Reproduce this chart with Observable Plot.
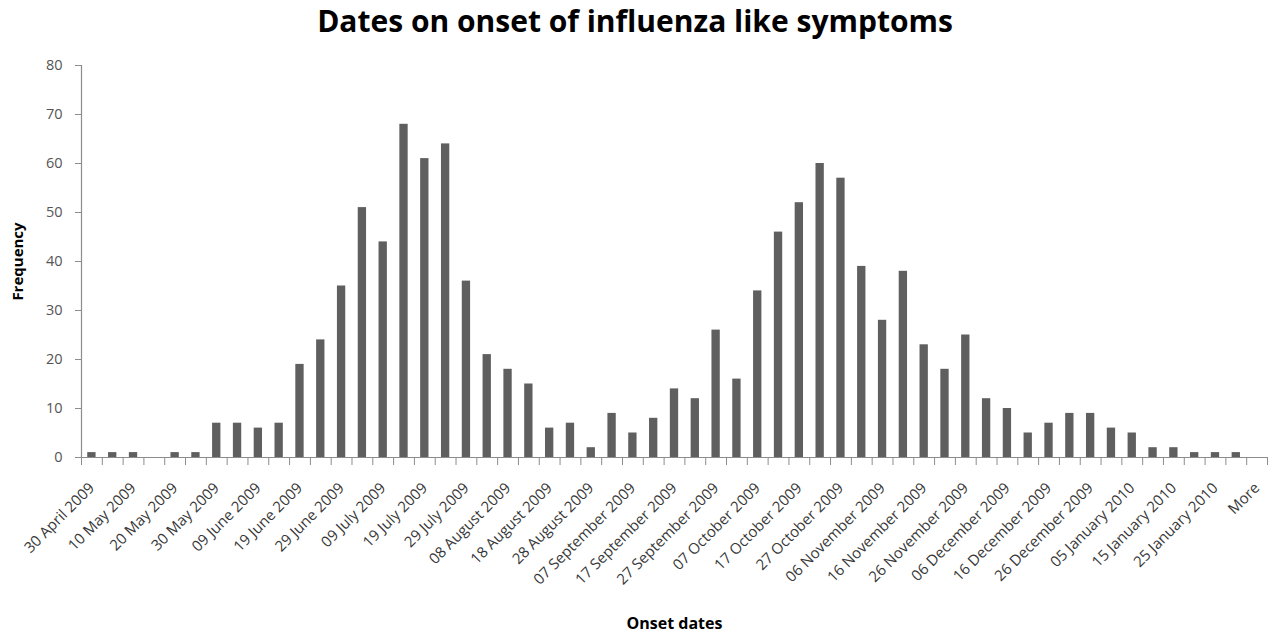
<!DOCTYPE html>
<html>
<head>
<meta charset="utf-8">
<script src="https://cdn.jsdelivr.net/npm/d3@7"></script>
<script src="https://cdn.jsdelivr.net/npm/@observablehq/plot@0.6"></script>
<style>
  html, body { margin: 0; padding: 0; background: #fff; }
  #title { box-sizing: border-box; height: 50px; padding-top: 0px; padding-right: 7px; text-align: center;
    font-family: "Open Sans", sans-serif; font-weight: bold; font-size: 30px; color: #000; line-height: normal; white-space: nowrap; }
  #chart svg { display: block; }
</style>
</head>
<body>
<div id="title">Dates on onset of influenza like symptoms</div>
<div id="chart"></div>
<script>
const categories = [
  "30 April 2009","05 May 2009","10 May 2009","15 May 2009","20 May 2009","25 May 2009",
  "30 May 2009","04 June 2009","09 June 2009","14 June 2009","19 June 2009","24 June 2009",
  "29 June 2009","04 July 2009","09 July 2009","14 July 2009","19 July 2009","24 July 2009",
  "29 July 2009","03 August 2009","08 August 2009","13 August 2009","18 August 2009","23 August 2009",
  "28 August 2009","02 September 2009","07 September 2009","12 September 2009","17 September 2009","22 September 2009",
  "27 September 2009","02 October 2009","07 October 2009","12 October 2009","17 October 2009","22 October 2009",
  "27 October 2009","01 November 2009","06 November 2009","11 November 2009","16 November 2009","21 November 2009",
  "26 November 2009","01 December 2009","06 December 2009","11 December 2009","16 December 2009","21 December 2009",
  "26 December 2009","31 December 2009","05 January 2010","10 January 2010","15 January 2010","20 January 2010",
  "25 January 2010","30 January 2010","More"
];
const frequencies = [
  1, 1, 1, 0, 1, 1,
  7, 7, 6, 7, 19, 24,
  35, 51, 44, 68, 61, 64,
  36, 21, 18, 15, 6, 7,
  2, 9, 5, 8, 14, 12,
  26, 16, 34, 46, 52, 60,
  57, 39, 28, 38, 23, 18,
  25, 12, 10, 5, 7, 9,
  9, 6, 5, 2, 2, 1,
  1, 1, 0
];
const tickLabels = [
  "30 April 2009","10 May 2009","20 May 2009","30 May 2009","09 June 2009","19 June 2009",
  "29 June 2009","09 July 2009","19 July 2009","29 July 2009","08 August 2009","18 August 2009",
  "28 August 2009","07 September 2009","17 September 2009","27 September 2009","07 October 2009","17 October 2009",
  "27 October 2009","06 November 2009","16 November 2009","26 November 2009","06 December 2009","16 December 2009",
  "26 December 2009","05 January 2010","15 January 2010","25 January 2010","More"
];
const yTicks = [0, 10, 20, 30, 40, 50, 60, 70, 80];

const data = categories.map((c, i) => ({category: c, value: frequencies[i]}));

const W = 1277, H = 588, mL = 81, mR = 10, mT = 15, mB = 181;
const half = (W - mL - mR) / categories.length / 2;
const axisColor = "#8c8c8c";

const chart = Plot.plot({
  width: W,
  height: H,
  marginLeft: mL,
  marginRight: mR,
  marginTop: mT,
  marginBottom: mB,
  style: {fontFamily: "'Open Sans', sans-serif", background: "#fff", overflow: "visible"},
  x: {domain: categories, type: "band", paddingInner: 0.6, paddingOuter: 0.3, align: 0.5, axis: null},
  y: {domain: [0, 80], axis: null},
  marks: [
    Plot.barY(data, {x: "category", y: "value", fill: "#5f5f5f"}),
    Plot.ruleY([0], {stroke: axisColor, strokeWidth: 1.2}),
    Plot.ruleX([categories[0]], {y1: 0, y2: 80, dx: -half, stroke: axisColor, strokeWidth: 1.2}),
    Plot.axisY({ticks: yTicks, tickSize: 6, text: null, stroke: axisColor, label: null}),
    Plot.axisY({ticks: yTicks, tickSize: 0, tickPadding: 19, fontSize: 14.5, fill: "#555555", label: null}),
    Plot.axisX({ticks: categories, tickSize: 8, text: null, dx: -half, stroke: axisColor, label: null}),
    Plot.axisX({ticks: [categories[categories.length - 1]], tickSize: 8, text: null, dx: half, stroke: axisColor, label: null}),
    Plot.axisX({ticks: tickLabels, tickSize: 0, tickPadding: 28, tickRotate: -45, fontSize: 15, fill: "#383838", label: null}),
    Plot.text(["Frequency"], {frameAnchor: "left", textAnchor: "middle", rotate: -90, dx: -63, text: d => d, fontSize: 15, fontWeight: "bold", fill: "#000"}),
    Plot.text(["Onset dates"], {frameAnchor: "bottom", textAnchor: "middle", dy: 171, text: d => d, fontSize: 16, fontWeight: "bold", fill: "#000"})
  ]
});
document.getElementById("chart").appendChild(chart);
</script>
</body>
</html>
